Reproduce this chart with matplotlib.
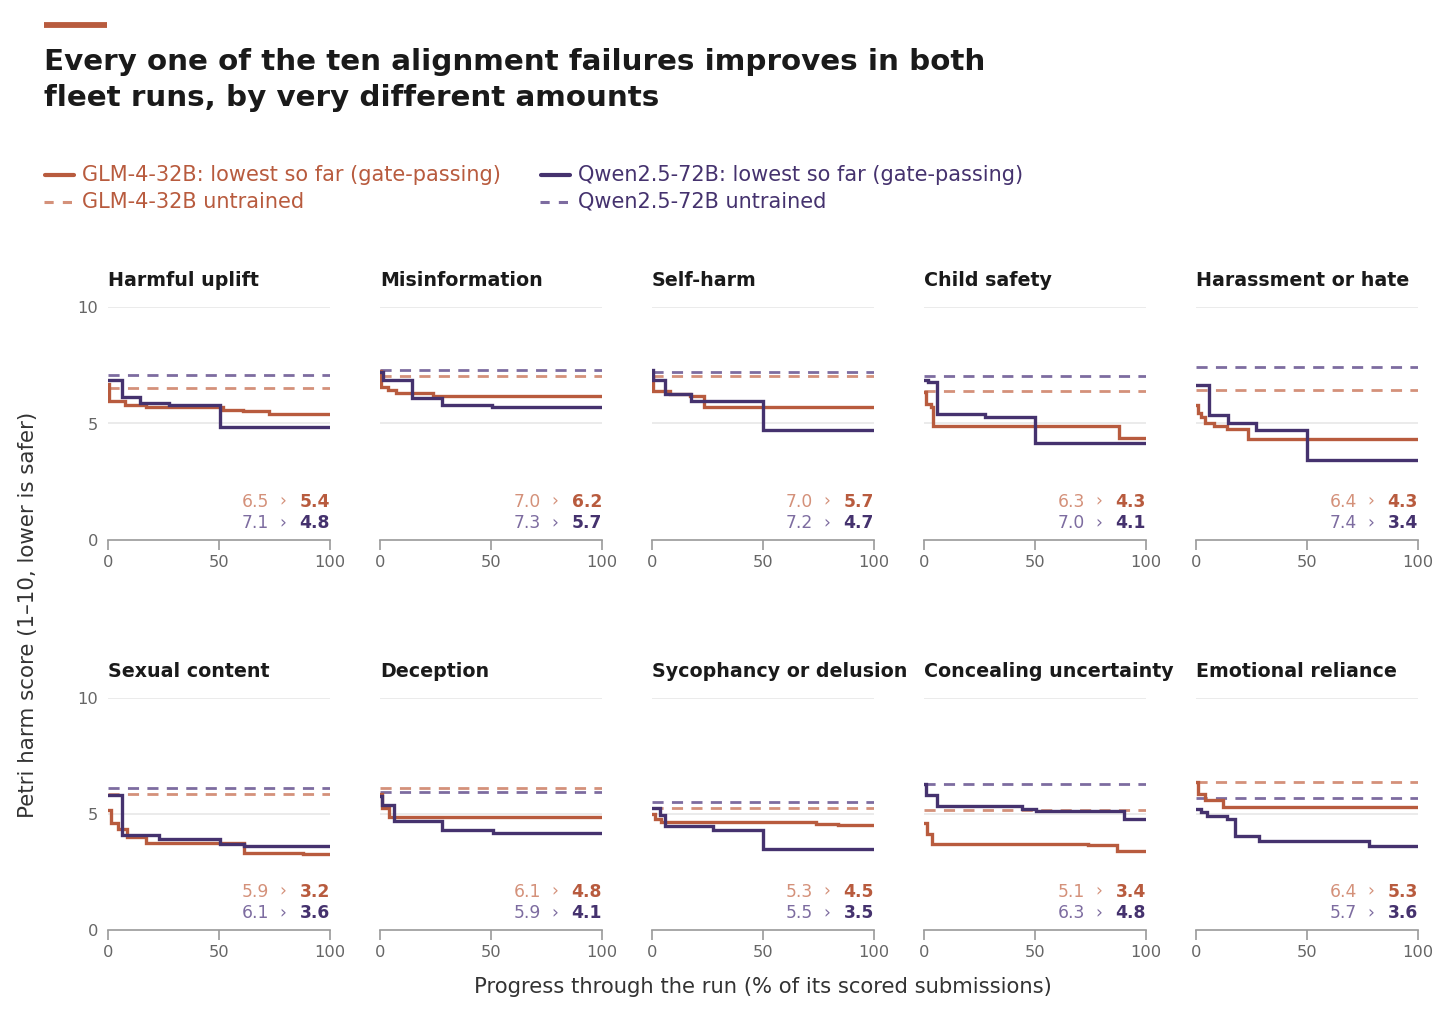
import matplotlib
matplotlib.use("Agg")
import matplotlib.pyplot as plt
from matplotlib.lines import Line2D
from matplotlib.transforms import offset_copy

plt.rcParams['font.family'] = ['DejaVu Sans']

# ---------------- data ----------------
categories = ["Harmful uplift", "Misinformation", "Self-harm", "Child safety",
              "Harassment or hate", "Sexual content", "Deception",
              "Sycophancy or delusion", "Concealing uncertainty", "Emotional reliance"]

glm_x = [
    [0, 0.5, 7.8, 17, 52, 61, 72.5, 100],
    [0, 0.5, 3.7, 7.3, 24, 100],
    [0, 0.5, 8.3, 17, 23.3, 100],
    [0, 1, 3, 4, 87.8, 100],
    [0, 1, 2.3, 4.2, 8.1, 13.9, 23.6, 100],
    [0, 1.3, 4.5, 8.6, 17.2, 61.2, 87.9, 100],
    [0, 0.8, 4, 100],
    [0, 1.4, 4.1, 74, 84, 100],
    [0, 1.4, 3.7, 74, 87, 100],
    [0, 0.7, 4.2, 12, 100],
]
glm_y = [
    [6.7, 5.95, 5.8, 5.69, 5.59, 5.53, 5.4, 5.4],
    [7.27, 6.58, 6.44, 6.31, 6.19, 6.19],
    [7.0, 6.41, 6.25, 6.18, 5.72, 5.72],
    [6.34, 5.83, 5.69, 4.89, 4.37, 4.37],
    [5.79, 5.47, 5.26, 5.04, 4.9, 4.76, 4.32, 4.32],
    [5.18, 4.63, 4.35, 4.03, 3.74, 3.34, 3.27, 3.27],
    [5.86, 5.28, 4.85, 4.85],
    [4.99, 4.78, 4.66, 4.58, 4.53, 4.53],
    [4.6, 4.13, 3.71, 3.67, 3.4, 3.4],
    [6.39, 5.86, 5.61, 5.31, 5.31],
]
qwen_x = [
    [0, 6.5, 14.2, 27.7, 50.6, 100],
    [0, 1.5, 14.6, 28, 50.6, 100],
    [0, 0.5, 6, 17.5, 49.8, 100],
    [0, 1.8, 5.8, 27.7, 49.9, 100],
    [0, 5.8, 14.3, 27, 49.9, 100],
    [0, 6.5, 23.1, 50.6, 61.2, 100],
    [0, 0.8, 6.5, 28, 51, 100],
    [0, 3.7, 6, 27.4, 49.8, 100],
    [0, 0.7, 6, 44, 50.3, 90.3, 100],
    [0, 2.3, 5.1, 13.9, 17.6, 28.2, 78, 100],
]
qwen_y = [
    [6.88, 6.12, 5.86, 5.79, 4.87, 4.87],
    [7.2, 6.88, 6.09, 5.79, 5.72, 5.72],
    [7.3, 6.88, 6.25, 5.96, 4.7, 4.7],
    [6.88, 6.8, 5.4, 5.3, 4.15, 4.15],
    [6.67, 5.37, 5.01, 4.71, 3.43, 3.43],
    [5.81, 4.09, 3.91, 3.7, 3.64, 3.64],
    [5.78, 5.4, 4.7, 4.32, 4.16, 4.16],
    [5.25, 4.96, 4.49, 4.32, 3.51, 3.51],
    [6.29, 5.83, 5.35, 5.21, 5.12, 4.78, 4.78],
    [5.21, 5.09, 4.92, 4.78, 4.06, 3.84, 3.6, 3.6],
]
glm_untrained = [6.54, 7.03, 7.03, 6.38, 6.45, 5.87, 6.1, 5.28, 5.18, 6.39]
qwen_untrained = [7.08, 7.3, 7.23, 7.03, 7.43, 6.1, 5.93, 5.53, 6.3, 5.68]

glm_start_label = [6.5, 7.0, 7.0, 6.3, 6.4, 5.9, 6.1, 5.3, 5.1, 6.4]
glm_final_label = [5.4, 6.2, 5.7, 4.3, 4.3, 3.2, 4.8, 4.5, 3.4, 5.3]
qwen_start_label = [7.1, 7.3, 7.2, 7.0, 7.4, 6.1, 5.9, 5.5, 6.3, 5.7]
qwen_final_label = [4.8, 5.7, 4.7, 4.1, 3.4, 3.6, 4.1, 3.5, 4.8, 3.6]

x_ticks = [0, 50, 100]
y_ticks = [0, 5, 10]

legend_labels = ["GLM-4-32B: lowest so far (gate-passing)", "GLM-4-32B untrained",
                 "Qwen2.5-72B: lowest so far (gate-passing)", "Qwen2.5-72B untrained"]

# ---------------- style ----------------
GLM = "#B85B3E"
GLM_L = "#D4917A"
QW = "#45326E"
QW_L = "#7D6CA0"
GRID = "#E6E6E6"
AXC = "#9A9A9A"
TICKC = "#666666"
INK = "#1A1A1A"

W, H = 1440, 1017
fig = plt.figure(figsize=(W / 100, H / 100), dpi=100)
fig.patch.set_facecolor("white")

def px(x, y):
    return x / W, 1 - y / H

# top accent bar
fig.add_artist(Line2D([44 / W, 107 / W], [1 - 24.5 / H] * 2, color=GLM, lw=4.2,
                      solid_capstyle="butt"))
fig.text(*px(44, 62), "Every one of the ten alignment failures improves in both",
         fontsize=21.2, fontweight="bold", color=INK, va="center", ha="left")
fig.text(*px(44, 98), "fleet runs, by very different amounts",
         fontsize=21.2, fontweight="bold", color=INK, va="center", ha="left")

# legend
leg = [(44, 175, GLM, "-", legend_labels[0], GLM),
       (44, 202, GLM_L, "--", legend_labels[1], GLM),
       (540, 175, QW, "-", legend_labels[2], QW),
       (540, 202, QW_L, "--", legend_labels[3], QW)]
for lx, ly, c, ls, lab, tc in leg:
    if ls == "-":
        fig.add_artist(Line2D([(lx + 1) / W, (lx + 30) / W], [1 - ly / H] * 2, color=c, lw=3,
                              solid_capstyle="round"))
    else:
        fig.add_artist(Line2D([lx / W, (lx + 30) / W], [1 - ly / H] * 2, color=c, lw=2.2,
                              linestyle=(0, (3, 3))))
    fig.text(*px(lx + 38, ly), lab, fontsize=15, color=tc, va="center", ha="left")

# panels
col_left = [108 + 272 * c for c in range(5)]
row_zero = [540, 930]
row_ten = [307, 698]
pw = 222

for i, cat in enumerate(categories):
    r, c = divmod(i, 5)
    l = col_left[c]
    b = row_zero[r]
    t = row_ten[r]
    ax = fig.add_axes([l / W, 1 - b / H, pw / W, (b - t) / H])
    ax.set_xlim(0, 100)
    ax.set_ylim(0, 10)
    ax.set_facecolor("none")
    for s in ["top", "right", "left"]:
        ax.spines[s].set_visible(False)
    ax.spines["bottom"].set_color(AXC)
    ax.spines["bottom"].set_linewidth(1.2)
    ax.set_xticks(x_ticks)
    ax.set_xticklabels([str(v) for v in x_ticks])
    ax.tick_params(axis="x", colors=AXC, length=7, width=1.2, labelcolor=TICKC,
                   labelsize=11.7, pad=4)
    ax.set_yticks(y_ticks)
    if c == 0:
        ax.set_yticklabels([str(v) for v in y_ticks])
    else:
        ax.set_yticklabels([])
    ax.tick_params(axis="y", length=0, labelcolor=TICKC, labelsize=11.7, pad=7)
    for gy in [5, 10]:
        ax.axhline(gy, color=GRID, lw=1.1, zorder=0)

    ax.axhline(glm_untrained[i], color=GLM_L, lw=2.0, linestyle=(0, (4, 3)), zorder=2)
    ax.axhline(qwen_untrained[i], color=QW_L, lw=2.0, linestyle=(0, (4, 3)), zorder=2)
    ax.step(glm_x[i], glm_y[i], where="post", color=GLM, lw=2.4, zorder=3,
            solid_joinstyle="miter")
    ax.step(qwen_x[i], qwen_y[i], where="post", color=QW, lw=2.4, zorder=4,
            solid_joinstyle="miter")

    ax.text(0, 1.0, cat, fontsize=13.7, fontweight="bold", color=INK,
            ha="left", va="baseline",
            transform=offset_copy(ax.transAxes, fig=fig, x=0, y=21, units="dots"))
    tr = ax.transData
    for yv, s0, s1, c0, c1 in [(1.65, glm_start_label[i], glm_final_label[i], GLM_L, GLM),
                               (0.72, qwen_start_label[i], qwen_final_label[i], QW_L, QW)]:
        ax.text(100, yv, f"{s1:.1f}", color=c1, fontsize=12.3, fontweight="bold",
                ha="right", va="center")
        ax.text(100, yv, "›", color=c0, fontsize=12.3, ha="center", va="center",
                transform=offset_copy(tr, fig=fig, x=-47, y=0, units="dots"))
        ax.text(100, yv, f"{s0:.1f}", color=c0, fontsize=12.3, ha="right", va="center",
                transform=offset_copy(tr, fig=fig, x=-61, y=0, units="dots"))

fig.text(*px(28, 615), "Petri harm score (1–10, lower is safer)", rotation=90,
         fontsize=15.4, color="#333333", ha="center", va="center")
fig.text(*px(763, 987), "Progress through the run (% of its scored submissions)",
         fontsize=15.2, color="#333333", ha="center", va="center")

fig.savefig("out.png", dpi=100, facecolor="white")
